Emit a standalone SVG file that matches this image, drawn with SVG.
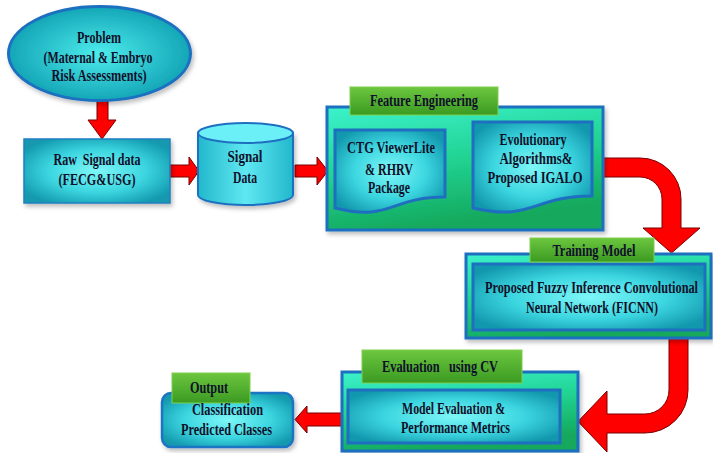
<svg xmlns="http://www.w3.org/2000/svg" width="713" height="453" viewBox="0 0 713 453">
  <defs>
    <radialGradient id="gInner" cx="50%" cy="50%" r="60%">
      <stop offset="0" stop-color="#7ef7f7"/>
      <stop offset="0.55" stop-color="#3cd6e0"/>
      <stop offset="1" stop-color="#1298ae"/>
    </radialGradient>
    <radialGradient id="gEllipse" cx="50%" cy="50%" r="55%">
      <stop offset="0" stop-color="#4cecec"/>
      <stop offset="1" stop-color="#0f9fb2"/>
    </radialGradient>
    <linearGradient id="gOuter" x1="0" y1="0" x2="0.3" y2="1">
      <stop offset="0" stop-color="#3cf2cc"/>
      <stop offset="0.5" stop-color="#22d494"/>
      <stop offset="1" stop-color="#14a85c"/>
    </linearGradient>
    <linearGradient id="gTab" x1="0" y1="0" x2="0" y2="1">
      <stop offset="0" stop-color="#6cc63e"/>
      <stop offset="1" stop-color="#3b9a22"/>
    </linearGradient>
    <linearGradient id="gCyl" x1="0" y1="0" x2="1" y2="0">
      <stop offset="0" stop-color="#22b8cc"/>
      <stop offset="0.5" stop-color="#5fe8f2"/>
      <stop offset="1" stop-color="#22b8cc"/>
    </linearGradient>
    <filter id="shadow" x="-10%" y="-10%" width="130%" height="140%">
      <feDropShadow dx="2" dy="3" stdDeviation="2" flood-color="#000" flood-opacity="0.25"/>
    </filter>
  </defs>
  <style>
    .inner { fill: url(#gInner); stroke: #1f6fc0; stroke-width: 3; }
    .outer { fill: url(#gOuter); stroke: #1f6fc0; stroke-width: 3; }
    .tab { fill: url(#gTab); stroke: #7fd04e; stroke-width: 1; }
    .arrow { fill: #ff0000; stroke: #7a0000; stroke-width: 1; stroke-linejoin: miter; }
    text { font-family: "Liberation Serif", "Times New Roman", serif; font-weight: bold; font-size: 16px; fill: #10102a; text-anchor: middle; }
  </style>

  <!-- Connectors -->
  <g id="connectors">
    <path class="arrow" d="M97,101 L108,101 L108,120 L116,120 L102,139 L88,120 L97,120 Z"/>
    <path class="arrow" d="M170,165 L189,165 L189,157 L199,171 L189,185 L189,177 L170,177 Z"/>
    <path class="arrow" d="M295,165 L317,165 L317,157 L328,171 L317,185 L317,177 L295,177 Z"/>
    <path class="arrow" d="M445,163 L466,163 L466,157 L475,167 L466,177 L466,171 L445,171 Z"/>
    <path class="arrow" d="M603,158 L640,158 A41,41 0 0 1 681,199 L681,228 L700,228 L671.5,253 L643,228 L662,228 L662,199 A22,22 0 0 0 640,177 L603,177 Z"/>
    <path class="arrow" d="M669,338 L688,338 L688,390 A43,43 0 0 1 645,433 L607,433 L607,452 L578,421.5 L607,391 L607,414 L645,414 A24,24 0 0 0 669,390 Z"/>
    <path class="arrow" d="M342,413 L307,413 L307,406 L295,419.5 L307,433 L307,426 L342,426 Z"/>
  </g>

  <!-- Problem -->
  <g id="problem">
    <ellipse cx="99.5" cy="53.5" rx="91" ry="47" fill="url(#gEllipse)" stroke="#1f6fc0" stroke-width="3" filter="url(#shadow)"/>
    <text x="99" y="43" textLength="44" lengthAdjust="spacingAndGlyphs">Problem</text>
    <text x="98" y="63" textLength="109" lengthAdjust="spacingAndGlyphs">(Maternal &amp; Embryo</text>
    <text x="99" y="81" textLength="95" lengthAdjust="spacingAndGlyphs">Risk Assessments)</text>
  </g>

  <!-- Raw signal data -->
  <g id="raw-signal">
    <rect x="24" y="139" width="146" height="64" fill="url(#gInner)" stroke="#1f7fc0" stroke-width="1.5" filter="url(#shadow)"/>
    <text x="97" y="165" textLength="87" lengthAdjust="spacingAndGlyphs">Raw&#160; Signal data</text>
    <text x="97" y="185" textLength="77" lengthAdjust="spacingAndGlyphs">(FECG&amp;USG)</text>
  </g>

  <!-- Signal data store -->
  <g id="signal-data">
    <path d="M198,133 L198,195 A47.5,10 0 0 0 293,195 L293,133 Z" fill="url(#gCyl)" stroke="#1f6fc0" stroke-width="2" filter="url(#shadow)"/>
    <ellipse cx="245.5" cy="133" rx="47.5" ry="10" fill="#6cf0f8" stroke="#1f6fc0" stroke-width="2"/>
    <text x="245" y="162" textLength="35" lengthAdjust="spacingAndGlyphs">Signal</text>
    <text x="245" y="183" textLength="24" lengthAdjust="spacingAndGlyphs">Data</text>
  </g>

  <!-- Feature engineering -->
  <g id="feature-engineering">
    <rect class="outer" x="327" y="107" width="276" height="123" filter="url(#shadow)"/>
    <rect class="tab" x="350" y="87" width="148" height="28"/>
    <text x="424" y="106" textLength="108" lengthAdjust="spacingAndGlyphs">Feature Engineering</text>
  </g>

  <g id="ctg-viewer">
    <path class="inner" d="M335,130 L445,130 L445,197 C390,197 390,222 335,208 Z"/>
    <text x="391" y="153" textLength="88" lengthAdjust="spacingAndGlyphs">CTG ViewerLite</text>
    <text x="389" y="175" textLength="48" lengthAdjust="spacingAndGlyphs">&amp; RHRV</text>
    <text x="389" y="193" textLength="42" lengthAdjust="spacingAndGlyphs">Package</text>
  </g>

  <g id="evolutionary">
    <path class="inner" d="M473,122 L592,122 L592,196 C532,196 532,222 473,208 Z"/>
    <text x="533" y="145" textLength="67" lengthAdjust="spacingAndGlyphs">Evolutionary</text>
    <text x="536" y="164" textLength="73" lengthAdjust="spacingAndGlyphs">Algorithms&amp;</text>
    <text x="535" y="183" textLength="95" lengthAdjust="spacingAndGlyphs">Proposed IGALO</text>
  </g>

  <!-- Training model -->
  <g id="training-model">
    <rect class="outer" x="466" y="254" width="245" height="84" filter="url(#shadow)"/>
    <rect class="inner" x="473" y="264" width="232" height="66"/>
    <rect class="tab" x="530" y="238" width="124" height="24"/>
    <text x="594" y="256" textLength="83" lengthAdjust="spacingAndGlyphs">Training Model</text>
    <text transform="translate(591.5,293) scale(0.78,1)" x="0" y="0" textLength="273" lengthAdjust="spacingAndGlyphs">Proposed Fuzzy Inference Convolutional</text>
    <text x="592" y="313" textLength="132" lengthAdjust="spacingAndGlyphs">Neural Network (FICNN)</text>
  </g>

  <!-- Evaluation -->
  <g id="evaluation">
    <rect class="outer" x="342" y="372" width="236" height="79" filter="url(#shadow)"/>
    <rect class="inner" x="348" y="390" width="212" height="53"/>
    <rect class="tab" x="362" y="350" width="160" height="33"/>
    <text x="440" y="372" textLength="116" lengthAdjust="spacingAndGlyphs">Evaluation&#160;&#160; using CV</text>
    <text x="453.5" y="414" textLength="103" lengthAdjust="spacingAndGlyphs">Model Evaluation &amp;</text>
    <text x="455.5" y="433" textLength="109" lengthAdjust="spacingAndGlyphs">Performance Metrics</text>
  </g>

  <!-- Output -->
  <g id="output">
    <rect x="162" y="393" width="131" height="54" rx="9" fill="url(#gInner)" stroke="#1f74c4" stroke-width="2.5" filter="url(#shadow)"/>
    <rect class="tab" x="172" y="373" width="78" height="30"/>
    <text x="209" y="393" textLength="38" lengthAdjust="spacingAndGlyphs">Output</text>
    <text x="227.5" y="415" textLength="71" lengthAdjust="spacingAndGlyphs">Classification</text>
    <text x="226.5" y="435" textLength="91" lengthAdjust="spacingAndGlyphs">Predicted Classes</text>
  </g>
</svg>
